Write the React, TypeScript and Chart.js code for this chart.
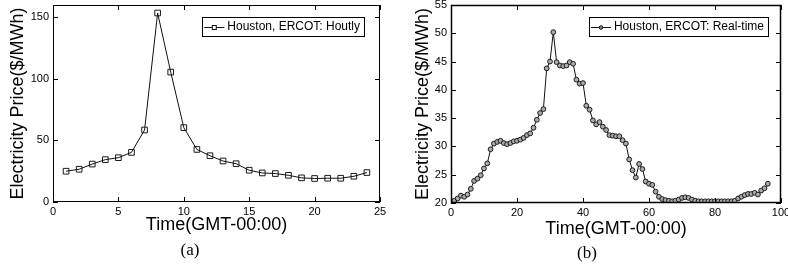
import React, { useEffect, useRef } from "react";
import { Chart, registerables } from "chart.js";

Chart.register(...registerables);

// ---------- data ----------
const hours = [1, 2, 3, 4, 5, 6, 7, 8, 9, 10, 11, 12, 13, 14, 15, 16, 17, 18, 19, 20, 21, 22, 23, 24];
const hourlyPrice = [
  25.0, 26.6, 30.8, 34.4, 36.0, 40.3, 58.5, 153.5, 105.5, 60.4, 42.7, 37.6,
  33.3, 31.1, 25.8, 23.6, 23.1, 21.7, 19.6, 19.1, 19.3, 19.3, 20.9, 23.9,
];

const intervals = [
  1, 2, 3, 4, 5, 6, 7, 8, 9, 10, 11, 12, 13, 14, 15, 16, 17, 18, 19, 20,
  21, 22, 23, 24, 25, 26, 27, 28, 29, 30, 31, 32, 33, 34, 35, 36, 37, 38, 39, 40,
  41, 42, 43, 44, 45, 46, 47, 48, 49, 50, 51, 52, 53, 54, 55, 56, 57, 58, 59, 60,
  61, 62, 63, 64, 65, 66, 67, 68, 69, 70, 71, 72, 73, 74, 75, 76, 77, 78, 79, 80,
  81, 82, 83, 84, 85, 86, 87, 88, 89, 90, 91, 92, 93, 94, 95, 96,
];
const realTimePrice = [
  20.4, 20.8, 21.3, 21.1, 21.5, 22.5, 23.9, 24.3, 24.9, 26.1,
  27.0, 29.5, 30.5, 30.8, 31.0, 30.6, 30.4, 30.6, 30.9, 31.0,
  31.2, 31.5, 32.0, 32.3, 33.3, 34.7, 35.9, 36.6, 43.8, 45.0,
  50.2, 44.9, 44.3, 44.2, 44.3, 44.9, 44.6, 41.8, 41.1, 41.2,
  37.2, 36.5, 34.6, 33.9, 34.3, 33.5, 32.9, 32.0, 31.9, 31.8,
  31.8, 31.1, 30.5, 27.7, 25.8, 24.5, 26.9, 26.0, 23.8, 23.4,
  23.2, 22.0, 21.1, 20.7, 20.5, 20.4, 20.3, 20.4, 20.6, 20.9,
  21.0, 20.9, 20.6, 20.4, 20.3, 20.3, 20.3, 20.3, 20.3, 20.3,
  20.3, 20.3, 20.3, 20.3, 20.3, 20.4, 20.8, 21.1, 21.4, 21.6,
  21.6, 21.8, 21.5, 22.2, 22.6, 23.4,
];

const xTicksA = [0, 5, 10, 15, 20, 25];
const yTicksA = [0, 50, 100, 150];
const xTicksB = [0, 20, 40, 60, 80, 100];
const yTicksB = [20, 25, 30, 35, 40, 45, 50, 55];

const labelA = "Houston, ERCOT: Houtly";
const labelB = "Houston, ERCOT: Real-time";
const xTitle = "Time(GMT-00:00)";
const yTitle = "Electricity Price($/MWh)";

// ---------- plugins ----------
const framePlugin = {
  id: "frame",
  afterDatasetsDraw(chart: any, _args: any, opts: any) {
    const { ctx, chartArea } = chart;
    const { left, right, top, bottom } = chartArea;
    const xs = chart.scales.x;
    const ys = chart.scales.y;
    ctx.save();
    ctx.strokeStyle = "#000";
    ctx.lineWidth = 1;
    ctx.beginPath();
    const tl = 5;
    for (const t of xs.ticks) {
      const px = Math.round(xs.getPixelForValue(t.value)) + 0.5;
      ctx.moveTo(px, bottom);
      ctx.lineTo(px, bottom - tl);
      ctx.moveTo(px, top);
      ctx.lineTo(px, top + tl);
    }
    for (const t of ys.ticks) {
      const py = Math.round(ys.getPixelForValue(t.value)) + 0.5;
      ctx.moveTo(left, py);
      ctx.lineTo(left + tl, py);
      ctx.moveTo(right, py);
      ctx.lineTo(right - tl, py);
    }
    ctx.stroke();
    ctx.lineWidth = opts.width || 1;
    ctx.strokeRect(left + 0.5, top + 0.5, right - left - 1, bottom - top - 1);
    ctx.restore();
  },
};

const boxLegendPlugin = {
  id: "boxLegend",
  afterDraw(chart: any, _args: any, opts: any) {
    const { ctx, chartArea } = chart;
    const ds = chart.data.datasets[0];
    ctx.save();
    ctx.font = "12px 'Liberation Sans', Arial, sans-serif";
    const tw = ctx.measureText(ds.label).width;
    const right = chartArea.right - opts.rightInset;
    const top = chartArea.top + opts.topInset;
    const h = opts.height;
    const w = 25 + tw + 4;
    const left = right - w;
    ctx.fillStyle = "#fff";
    ctx.fillRect(left, top, w, h);
    ctx.strokeStyle = "#000";
    ctx.lineWidth = 1;
    ctx.strokeRect(Math.round(left) + 0.5, Math.round(top) + 0.5, Math.round(w), Math.round(h));
    const my = Math.round(top + h / 2) + 0.5;
    ctx.strokeStyle = "#111";
    ctx.beginPath();
    ctx.moveTo(left + 2, my);
    ctx.lineTo(left + 22, my);
    ctx.stroke();
    const cx = left + 12;
    ctx.strokeStyle = "#111";
    if (opts.marker === "rect") {
      ctx.fillStyle = "#fff";
      ctx.fillRect(cx - 2, my - 2, 4, 4);
      ctx.strokeRect(cx - 2, my - 2, 4, 4);
    } else {
      ctx.fillStyle = "#888";
      ctx.beginPath();
      ctx.arc(cx, my, 1.8, 0, Math.PI * 2);
      ctx.fill();
      ctx.stroke();
    }
    ctx.fillStyle = "#000";
    ctx.textBaseline = "middle";
    ctx.textAlign = "left";
    ctx.fillText(ds.label, left + 25, top + h / 2 + 0.5);
    ctx.restore();
  },
};

// ---------- config ----------
type Panel = {
  xs: number[];
  ys: number[];
  label: string;
  pointStyle: string;
  pointRadius: number;
  pointFill: string;
  xMin: number;
  xMax: number;
  yMin: number;
  yMax: number;
  xTicks: number[];
  yTicks: number[];
  plotLeft: number;
  plotRight: number;
  plotTop: number;
  plotBottom: number;
  yTitlePad: number;
  xTitlePad: number;
  legendRightInset: number;
  legendTopInset: number;
  frameWidth: number;
};

const W = 394;
const H = 264;
const FONT = "'Liberation Sans', Arial, Helvetica, sans-serif";

function makeConfig(p: Panel): any {
  return {
    type: "line",
    data: {
      datasets: [
        {
          label: p.label,
          data: p.xs.map((x, i) => ({ x, y: p.ys[i] })),
          borderColor: "#111",
          borderWidth: 1,
          pointStyle: p.pointStyle,
          pointRadius: p.pointRadius,
          pointBorderWidth: 1,
          pointBorderColor: "#1a1a1a",
          pointBackgroundColor: p.pointFill,
          tension: 0,
          fill: false,
        },
      ],
    },
    options: {
      animation: false,
      responsive: false,
      maintainAspectRatio: false,
      layout: { padding: { left: 0, top: p.plotTop, right: W - p.plotRight, bottom: 0 } },
      plugins: {
        legend: { display: false },
        tooltip: { enabled: false },
        frame: { width: p.frameWidth },
        boxLegend: {
          rightInset: p.legendRightInset,
          topInset: p.legendTopInset,
          height: 19,
          marker: p.pointStyle,
        },
      },
      scales: {
        x: {
          type: "linear",
          min: p.xMin,
          max: p.xMax,
          grid: { display: false, drawTicks: false },
          border: { display: false },
          ticks: {
            color: "#000",
            font: { family: FONT, size: 11 },
            padding: 3,
            maxRotation: 0,
            autoSkip: false,
          },
          afterBuildTicks: (s: any) => {
            s.ticks = p.xTicks.map((v) => ({ value: v }));
          },
          afterFit: (s: any) => {
            s.height = H - p.plotBottom;
            s.paddingLeft = 0;
            s.paddingRight = 0;
          },
          title: {
            display: true,
            text: xTitle,
            color: "#000",
            font: { family: FONT, size: 18 },
            padding: { top: 0, bottom: p.xTitlePad },
          },
        },
        y: {
          type: "linear",
          min: p.yMin,
          max: p.yMax,
          grid: { display: false, drawTicks: false },
          border: { display: false },
          ticks: {
            color: "#000",
            font: { family: FONT, size: 11 },
            padding: 4,
            autoSkip: false,
          },
          afterBuildTicks: (s: any) => {
            s.ticks = p.yTicks.map((v) => ({ value: v }));
          },
          afterFit: (s: any) => {
            s.width = p.plotLeft;
            s.paddingTop = 0;
            s.paddingBottom = 0;
          },
          title: {
            display: true,
            text: yTitle,
            color: "#000",
            font: { family: FONT, size: 18 },
            padding: { top: p.yTitlePad, bottom: 0 },
          },
        },
      },
    },
    plugins: [framePlugin, boxLegendPlugin],
  };
}

const panelA: Panel = {
  xs: hours,
  ys: hourlyPrice,
  label: labelA,
  pointStyle: "rect",
  pointRadius: 4,
  pointFill: "rgba(255,255,255,0)",
  xMin: 0,
  xMax: 25,
  yMin: 0,
  yMax: 160,
  xTicks: xTicksA,
  yTicks: yTicksA,
  plotLeft: 53,
  plotRight: 380,
  plotTop: 3,
  plotBottom: 202,
  yTitlePad: 7,
  xTitlePad: 28,
  legendRightInset: 16,
  legendTopInset: 12,
  frameWidth: 1,
};

const panelB: Panel = {
  xs: intervals,
  ys: realTimePrice,
  label: labelB,
  pointStyle: "circle",
  pointRadius: 2.4,
  pointFill: "#aaa",
  xMin: 0,
  xMax: 100,
  yMin: 20,
  yMax: 55,
  xTicks: xTicksB,
  yTicks: yTicksB,
  plotLeft: 57,
  plotRight: 387,
  plotTop: 4,
  plotBottom: 203,
  yTitlePad: 18,
  xTitlePad: 24,
  legendRightInset: 13,
  legendTopInset: 12,
  frameWidth: 1.5,
};

function ChartPanel({ panel, left }: { panel: Panel; left: number }) {
  const ref = useRef<HTMLCanvasElement | null>(null);
  useEffect(() => {
    if (!ref.current) return;
    const chart = new Chart(ref.current, makeConfig(panel));
    return () => chart.destroy();
  }, [panel]);
  return (
    <canvas
      ref={ref}
      width={W}
      height={H}
      style={{ position: "absolute", left, top: 0, width: W, height: H, display: "block" }}
    />
  );
}

export default function App() {
  const capStyle: React.CSSProperties = {
    position: "absolute",
    fontFamily: "'Liberation Serif', 'Times New Roman', serif",
    fontSize: 17,
    lineHeight: "17px",
    color: "#000",
    transform: "translate(-50%, -50%)",
    whiteSpace: "nowrap",
  };
  return (
    <div style={{ position: "absolute", left: 0, top: 0, width: 788, height: 264, background: "#fff", overflow: "hidden" }}>
      <ChartPanel panel={panelA} left={0} />
      <ChartPanel panel={panelB} left={394} />
      <div style={{ ...capStyle, left: 190, top: 249 }}>(a)</div>
      <div style={{ ...capStyle, left: 587, top: 252 }}>(b)</div>
    </div>
  );
}
